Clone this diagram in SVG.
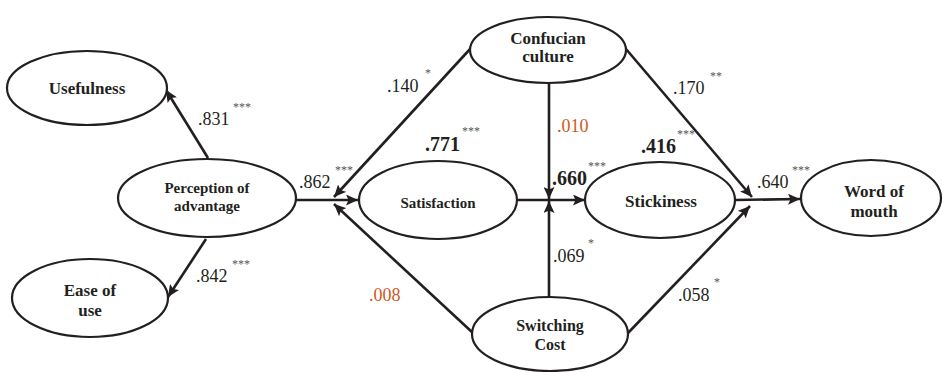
<svg xmlns="http://www.w3.org/2000/svg" width="943" height="372" viewBox="0 0 943 372" font-family="'Liberation Serif', 'Times New Roman', 'DejaVu Serif', serif">
  <style>
    .node ellipse { fill: #ffffff; stroke: #231f20; stroke-width: 2.2; }
    .node text { font-weight: bold; fill: #231f20; text-anchor: middle; }
    .edge { stroke: #231f20; stroke-width: 2.6; fill: none; marker-end: url(#arrow); }
    .coef { font-size: 18px; fill: #231f20; }
    .coef.bold { font-weight: bold; font-size: 20px; }
    .coef.ns { fill: #cc5a22; }
    .sig { font-size: 12px; fill: #555555; }
  </style>
  <defs>
    <marker id="arrow" markerUnits="userSpaceOnUse" markerWidth="13" markerHeight="11" refX="12" refY="5.5" orient="auto">
      <path d="M0,0 L12,5.5 L0,11 L2.5,5.5 z" fill="#231f20"/>
    </marker>
  </defs>

  <rect width="943" height="372" fill="#ffffff"/>

  <!-- paths between constructs -->
  <g id="connectors">
    <line class="edge" x1="208" y1="158" x2="166" y2="90"/>
    <line class="edge" x1="206" y1="239" x2="168" y2="297"/>
    <line class="edge" x1="296" y1="200" x2="358" y2="200"/>
    <line class="edge" x1="471" y1="48" x2="334" y2="197"/>
    <line class="edge" x1="473" y1="333" x2="334" y2="204"/>
    <line class="edge" x1="549" y1="83" x2="549" y2="199"/>
    <line class="edge" x1="517" y1="200" x2="585" y2="200"/>
    <line class="edge" x1="549" y1="297" x2="549" y2="201"/>
    <line class="edge" x1="626" y1="49" x2="752" y2="197"/>
    <line class="edge" x1="628" y1="333" x2="750" y2="206"/>
    <line class="edge" x1="735" y1="200" x2="800" y2="199"/>
  </g>

  <g id="usefulness" class="node">
    <ellipse cx="87" cy="88" rx="80" ry="37"/>
    <text x="87" y="94" font-size="17" font-family="'Liberation Serif', serif">Usefulness</text>
  </g>
  <g id="perception" class="node">
    <ellipse cx="207" cy="198" rx="89" ry="39"/>
    <text x="207" y="193" font-size="15" font-family="'Liberation Serif', serif">Perception of</text>
    <text x="207" y="211" font-size="15" font-family="'Liberation Serif', serif">advantage</text>
  </g>
  <g id="ease-of-use" class="node">
    <ellipse cx="90" cy="298" rx="78" ry="39"/>
    <text x="90" y="296" font-size="17" font-family="'Liberation Serif', serif">Ease of</text>
    <text x="90" y="316" font-size="17" font-family="'Liberation Serif', serif">use</text>
  </g>
  <g id="confucian-culture" class="node">
    <ellipse cx="548" cy="50" rx="78" ry="33"/>
    <text x="548" y="44" font-size="17" font-family="'Liberation Serif', serif">Confucian</text>
    <text x="548" y="62" font-size="17" font-family="'Liberation Serif', serif">culture</text>
  </g>
  <g id="satisfaction" class="node">
    <ellipse cx="438" cy="200" rx="79" ry="39"/>
    <text x="438" y="208" font-size="15" font-family="'Liberation Serif', serif">Satisfaction</text>
  </g>
  <g id="stickiness" class="node">
    <ellipse cx="660" cy="200" rx="75" ry="38"/>
    <text x="661" y="207" font-size="17" font-family="'Liberation Serif', serif">Stickiness</text>
  </g>
  <g id="word-of-mouth" class="node">
    <ellipse cx="871" cy="198" rx="70" ry="38"/>
    <text x="874" y="197" font-size="17" font-family="'Liberation Serif', serif">Word of</text>
    <text x="874" y="217" font-size="17" font-family="'Liberation Serif', serif">mouth</text>
  </g>
  <g id="switching-cost" class="node">
    <ellipse cx="550" cy="334" rx="78" ry="37"/>
    <text x="550" y="331" font-size="16" font-family="'Liberation Serif', serif">Switching</text>
    <text x="550" y="350" font-size="16" font-family="'Liberation Serif', serif">Cost</text>
  </g>

  <!-- path coefficients and significance marks -->
  <g id="coefficients" font-family="'Liberation Serif', serif">
    <text class="coef" x="198" y="125">.831</text><text class="sig" x="233" y="111">***</text>
    <text class="coef" x="196" y="282">.842</text><text class="sig" x="232" y="268">***</text>
    <text class="coef" x="299" y="188">.862</text><text class="sig" x="335" y="174">***</text>
    <text class="coef" x="387" y="92">.140</text><text class="sig" x="425" y="77">*</text>
    <text class="coef ns" x="557" y="132">.010</text>
    <text class="coef bold" x="425" y="151">.771</text><text class="sig" x="462" y="135">***</text>
    <text class="coef bold" x="552" y="185">.660</text><text class="sig" x="588" y="170">***</text>
    <text class="coef bold" x="641" y="153">.416</text><text class="sig" x="677" y="138">***</text>
    <text class="coef" x="673" y="94">.170</text><text class="sig" x="710" y="80">**</text>
    <text class="coef" x="757" y="188">.640</text><text class="sig" x="792" y="174">***</text>
    <text class="coef" x="553" y="262">.069</text><text class="sig" x="588" y="247">*</text>
    <text class="coef" x="678" y="301">.058</text><text class="sig" x="714" y="286">*</text>
    <text class="coef ns" x="369" y="301">.008</text>
  </g>
</svg>
